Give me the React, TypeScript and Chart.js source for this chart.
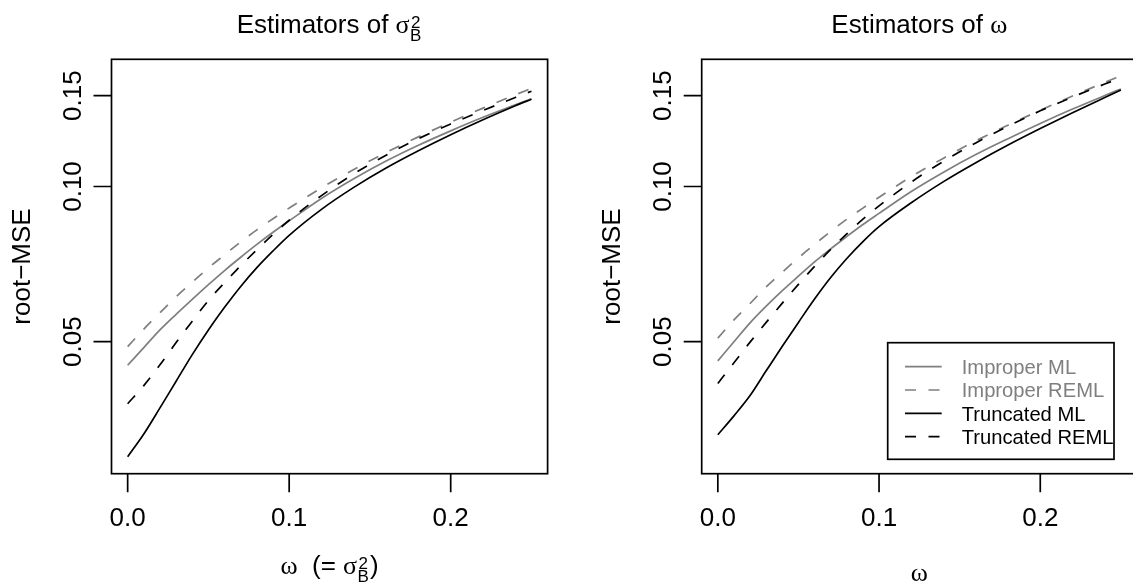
import React, { useEffect, useRef } from "react";
import { Chart, registerables } from "chart.js";

Chart.register(...registerables);

// ---------- data ----------
const xGrid = [0, 0.01, 0.02, 0.03, 0.04, 0.05, 0.06, 0.07, 0.08, 0.09, 0.1, 0.12, 0.14, 0.16, 0.18, 0.2, 0.22, 0.24, 0.25];

const xTicks = [0, 0.1, 0.2];
const xTickLabels = ["0.0", "0.1", "0.2"];
const yTicks = [0.05, 0.1, 0.15];
const yTickLabels = ["0.05", "0.10", "0.15"];
const seriesNames = ["Improper ML", "Improper REML", "Truncated ML", "Truncated REML"];
const yTitle = "root\u2212MSE";

// Left panel: estimators of sigma_B^2
const sigmaImproperML = [0.045, 0.0487, 0.0527, 0.0565, 0.0604, 0.0645, 0.0687, 0.0729, 0.0772, 0.0815, 0.0858, 0.0948, 0.1035, 0.112, 0.1202, 0.1282, 0.1362, 0.144, 0.148];
const sigmaImproperREML = [0.0489, 0.0529, 0.0569, 0.0611, 0.0652, 0.0695, 0.0737, 0.0781, 0.0824, 0.0866, 0.0908, 0.0994, 0.1079, 0.1164, 0.1248, 0.1333, 0.1419, 0.1506, 0.155];
const sigmaTruncML = [0.0299, 0.0331, 0.0372, 0.0419, 0.0472, 0.0527, 0.0583, 0.064, 0.0696, 0.075, 0.0804, 0.0903, 0.0996, 0.1086, 0.1173, 0.126, 0.1347, 0.1434, 0.1477];
const sigmaTruncREML = [0.0379, 0.0411, 0.0451, 0.0498, 0.0548, 0.0601, 0.0651, 0.0702, 0.0754, 0.0807, 0.086, 0.096, 0.1058, 0.115, 0.1238, 0.1322, 0.1404, 0.1488, 0.153];

// Right panel: estimators of omega
const omegaImproperML = [0.0459, 0.05, 0.0544, 0.0586, 0.0628, 0.067, 0.0714, 0.0757, 0.08, 0.0844, 0.0887, 0.0978, 0.1066, 0.1153, 0.1238, 0.1325, 0.1413, 0.1501, 0.1546];
const omegaImproperREML = [0.0508, 0.0551, 0.0593, 0.0639, 0.0682, 0.0727, 0.0772, 0.0818, 0.0864, 0.0908, 0.0953, 0.1045, 0.1135, 0.1226, 0.1315, 0.1406, 0.1498, 0.1592, 0.164];
const omegaTruncML = [0.033, 0.0359, 0.0393, 0.0439, 0.049, 0.0545, 0.0605, 0.0666, 0.0725, 0.0782, 0.0836, 0.093, 0.1022, 0.1112, 0.1203, 0.1295, 0.139, 0.1488, 0.1539];
const omegaTruncREML = [0.0415, 0.0455, 0.0499, 0.0545, 0.0594, 0.0646, 0.07, 0.0755, 0.0809, 0.0864, 0.0917, 0.102, 0.1119, 0.1215, 0.1309, 0.1402, 0.1491, 0.158, 0.1625];

// ---------- styling ----------
const SANS = '"Liberation Sans", Arial, Helvetica, sans-serif';
const SERIF = '"Liberation Serif", "DejaVu Serif", serif';
const GRAY = "#7f7f7f";
const LW = 1.7;
const DASH = [11, 12.5];
const FONT = 26;
const SCRIPT = 17;
const LEGEND_FONT = 20.2;
const Y_MIN = 0.02773;
const Y_MAX = 0.17648;
const X_MIN = -0.01;
const X_MAX = 0.26;
const H = 588;

type Run = { t?: string; f?: string; sup?: string; sub?: string };

function runWidth(ctx: CanvasRenderingContext2D, r: Run) {
  if (r.t !== undefined) {
    ctx.font = `${FONT}px ${r.f}`;
    return ctx.measureText(r.t).width;
  }
  ctx.font = `${SCRIPT}px ${SANS}`;
  return Math.max(ctx.measureText(r.sup || "").width, ctx.measureText(r.sub || "").width) + 1.5;
}

function drawRuns(ctx: CanvasRenderingContext2D, runs: Run[], cx: number, base: number, supDy: number, subDy: number) {
  const widths = runs.map((r) => runWidth(ctx, r));
  const total = widths.reduce((a, b) => a + b, 0);
  let x = cx - total / 2;
  ctx.textAlign = "left";
  ctx.textBaseline = "alphabetic";
  runs.forEach((r, i) => {
    if (r.t !== undefined) {
      ctx.font = `${FONT}px ${r.f}`;
      ctx.fillText(r.t, x, base);
    } else {
      ctx.font = `${SCRIPT}px ${SANS}`;
      if (r.sup) ctx.fillText(r.sup, x + 1.5, base + supDy);
      if (r.sub) ctx.fillText(r.sub, x + 0.5, base + subDy);
    }
    x += widths[i];
  });
}

const rPlot = {
  id: "rPlot",
  afterDatasetsDraw(chart: any, _args: any, opts: any) {
    const ctx: CanvasRenderingContext2D = chart.ctx;
    const { left, top, right, bottom } = chart.chartArea;
    const xs = chart.scales.x;
    const ys = chart.scales.y;
    ctx.save();
    ctx.strokeStyle = "#000";
    ctx.fillStyle = "#000";
    ctx.lineWidth = LW;
    ctx.setLineDash([]);
    ctx.strokeRect(left, top, right - left, bottom - top);
    ctx.beginPath();
    xTicks.forEach((v) => {
      const p = xs.getPixelForValue(v);
      ctx.moveTo(p, bottom);
      ctx.lineTo(p, bottom + 18.5);
    });
    yTicks.forEach((v) => {
      const p = ys.getPixelForValue(v);
      ctx.moveTo(left - 18, p);
      ctx.lineTo(left, p);
    });
    ctx.stroke();

    ctx.font = `${FONT}px ${SANS}`;
    ctx.textAlign = "center";
    ctx.textBaseline = "alphabetic";
    xTicks.forEach((v, i) => ctx.fillText(xTickLabels[i], xs.getPixelForValue(v), 526));
    yTicks.forEach((v, i) => {
      ctx.save();
      ctx.translate(left - 31, ys.getPixelForValue(v));
      ctx.rotate(-Math.PI / 2);
      ctx.fillText(yTickLabels[i], 0, 0);
      ctx.restore();
    });
    ctx.save();
    ctx.translate(left - 81.5, (top + bottom) / 2);
    ctx.rotate(-Math.PI / 2);
    ctx.fillText(yTitle, 0, 0);
    ctx.restore();

    const cx = (left + right) / 2;
    drawRuns(ctx, opts.title, cx, 33, -5.5, 7.5);
    drawRuns(ctx, opts.xlab, cx, opts.xlabY, -5.5, 8);

    if (opts.legend) {
      const lg = opts.legend;
      ctx.lineWidth = LW;
      ctx.strokeStyle = "#000";
      ctx.setLineDash([]);
      ctx.strokeRect(lg.x0, lg.y0, lg.x1 - lg.x0, lg.y1 - lg.y0);
      ctx.font = `${LEGEND_FONT}px ${SANS}`;
      ctx.textAlign = "left";
      chart.data.datasets
        .slice()
        .sort((a: any, b: any) => a.legendIndex - b.legendIndex)
        .forEach((ds: any, i: number) => {
          const y = lg.row0 + i * lg.step;
          ctx.strokeStyle = ds.borderColor;
          ctx.setLineDash(ds.borderDash || []);
          ctx.beginPath();
          ctx.moveTo(lg.lx0, y);
          ctx.lineTo(lg.lx1, y);
          ctx.stroke();
          ctx.fillStyle = ds.borderColor;
          ctx.fillText(ds.label, lg.tx, y + 7.4);
        });
    }
    ctx.restore();
  },
};

type PanelCfg = {
  offset: number;
  width: number;
  plotLeft: number;
  plotRight: number;
  series: number[][];
  title: Run[];
  xlab: Run[];
  xlabY: number;
  legend?: any;
};

const PLOT_TOP = 59.3;
const PLOT_BOTTOM = 473.7;

function makeDatasets(series: number[][]) {
  const styles = [
    { color: GRAY, dash: [] as number[], order: 3 },
    { color: GRAY, dash: DASH, order: 2 },
    { color: "#000", dash: [] as number[], order: 1 },
    { color: "#000", dash: DASH, order: 0 },
  ];
  return series.map((vals, i) => ({
    label: seriesNames[i],
    legendIndex: i,
    data: xGrid.map((x, j) => ({ x, y: vals[j] })),
    borderColor: styles[i].color,
    borderDash: styles[i].dash,
    borderWidth: LW,
    order: styles[i].order,
    pointRadius: 0,
    fill: false,
    cubicInterpolationMode: "monotone" as const,
  }));
}

function Panel({ cfg }: { cfg: PanelCfg }) {
  const ref = useRef<HTMLCanvasElement>(null);
  useEffect(() => {
    const chart = new Chart(ref.current as HTMLCanvasElement, {
      type: "line",
      data: { datasets: makeDatasets(cfg.series) as any },
      options: {
        animation: false,
        responsive: false,
        devicePixelRatio: 1,
        layout: {
          padding: {
            left: cfg.plotLeft,
            right: cfg.width - cfg.plotRight,
            top: PLOT_TOP,
            bottom: H - PLOT_BOTTOM,
          },
        },
        scales: {
          x: { type: "linear", min: X_MIN, max: X_MAX, display: false, bounds: "data" },
          y: { type: "logarithmic", min: Y_MIN, max: Y_MAX, display: false, bounds: "data" },
        },
        plugins: {
          legend: { display: false },
          tooltip: { enabled: false },
          rPlot: { title: cfg.title, xlab: cfg.xlab, xlabY: cfg.xlabY, legend: cfg.legend },
        } as any,
      },
      plugins: [rPlot],
    });
    return () => chart.destroy();
  }, []);
  return (
    <canvas
      ref={ref}
      width={cfg.width}
      height={H}
      style={{ position: "absolute", left: cfg.offset, top: 0, width: cfg.width, height: H }}
    />
  );
}

const leftCfg: PanelCfg = {
  offset: 0,
  width: 566,
  plotLeft: 111.5,
  plotRight: 547.6,
  series: [sigmaImproperML, sigmaImproperREML, sigmaTruncML, sigmaTruncREML],
  title: [{ t: "Estimators of ", f: SANS }, { t: "\u03C3", f: SERIF }, { sup: "2", sub: "B" }],
  xlab: [
    { t: "\u03C9", f: SERIF },
    { t: "  (= ", f: SANS },
    { t: "\u03C3", f: SERIF },
    { sup: "2", sub: "B" },
    { t: ")", f: SANS },
  ],
  xlabY: 574,
};

const rightCfg: PanelCfg = {
  offset: 566,
  width: 600,
  plotLeft: 135.7,
  plotRight: 571,
  series: [omegaImproperML, omegaImproperREML, omegaTruncML, omegaTruncREML],
  title: [{ t: "Estimators of ", f: SANS }, { t: "\u03C9", f: SERIF }],
  xlab: [{ t: "\u03C9", f: SERIF }],
  xlabY: 581,
  legend: {
    x0: 887.7 - 566,
    y0: 342.7,
    x1: 1114 - 566,
    y1: 459.3,
    lx0: 905 - 566,
    lx1: 941.7 - 566,
    tx: 961.7 - 566,
    row0: 366.7,
    step: 23.3,
  },
};

export default function App() {
  return (
    <div
      style={{
        position: "fixed",
        left: 0,
        top: 0,
        width: 1133,
        height: H,
        overflow: "hidden",
        background: "#fff",
      }}
    >
      <Panel cfg={leftCfg} />
      <Panel cfg={rightCfg} />
    </div>
  );
}
